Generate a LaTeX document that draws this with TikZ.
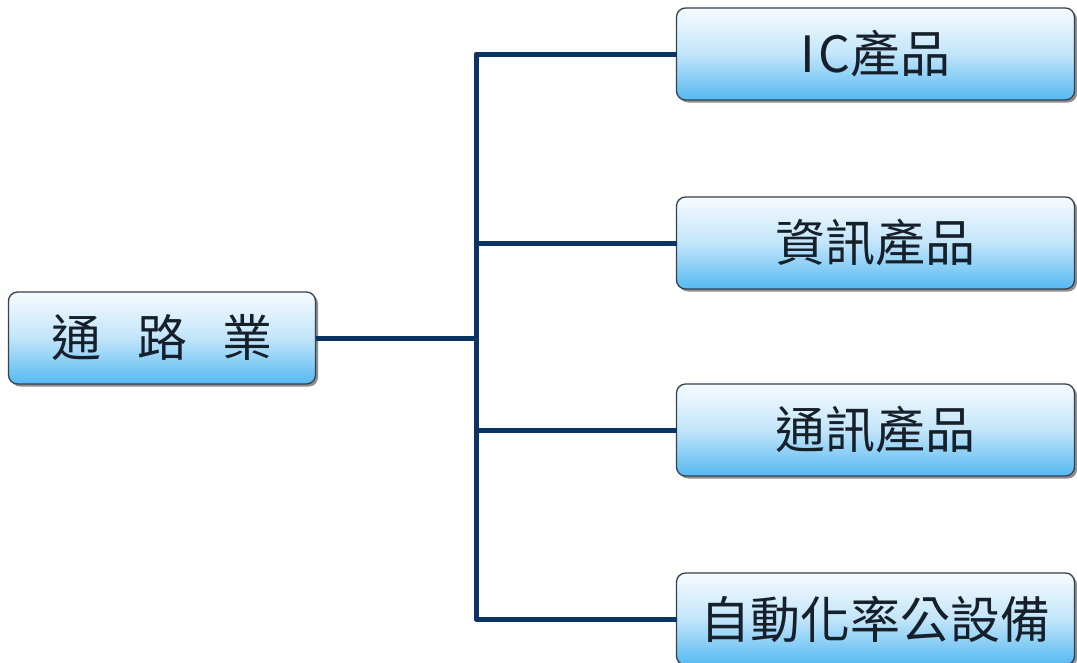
\documentclass[tikz,border=0pt]{standalone}
\usepackage{fontspec}
\newfontfamily\cjk{Noto Sans CJK TC}
\usetikzlibrary{shadows}
\definecolor{linecol}{HTML}{0B3463}
\definecolor{boxtop}{HTML}{F7FBFE}
\definecolor{boxmid}{HTML}{C2E5FA}
\definecolor{boxbot}{HTML}{55B9F2}
\definecolor{boxedge}{HTML}{34414F}
\definecolor{txtcol}{HTML}{16202B}
\tikzset{
  box/.style={draw=boxedge, line width=1.3pt, rounded corners=9pt,
    top color=boxtop, bottom color=boxbot, middle color=boxmid,
    drop shadow={shadow xshift=2.5pt, shadow yshift=-2.5pt, opacity=0.55, fill=black!80},
    inner sep=0pt, outer sep=0pt, minimum height=92pt,
    font=\cjk\fontsize{50}{55}\selectfont, text=txtcol},
  rbox/.style={box, minimum width=398pt},
  conn/.style={draw=linecol, line width=5pt, line join=round}
}
\begin{document}
\begin{tikzpicture}[x=1pt,y=-1pt]
\useasboundingbox (0,0) rectangle (1077,662);
\fill[white] (0,0) rectangle (1077,662);
\coordinate (j) at (476,336);
\node[box, minimum width=307pt] (root) at (162,338) {通\hspace{36pt}路\hspace{36pt}業};
\node[rbox] (ic) at (875.5,54) {I\hspace{4pt}C產品};
\node[rbox] (info) at (875.5,243) {資訊產品};
\node[rbox] (comm) at (875.5,430) {通訊產品};
\node[rbox] (auto) at (875.5,619) {自動化率公設備};
\draw[conn] (ic.west) -| (j) |- (auto.west);
\draw[conn] (root.east) -- (root.east -| j);
\draw[conn] (info.west) -- (info.west -| j);
\draw[conn] (comm.west) -- (comm.west -| j);
\end{tikzpicture}
\end{document}
